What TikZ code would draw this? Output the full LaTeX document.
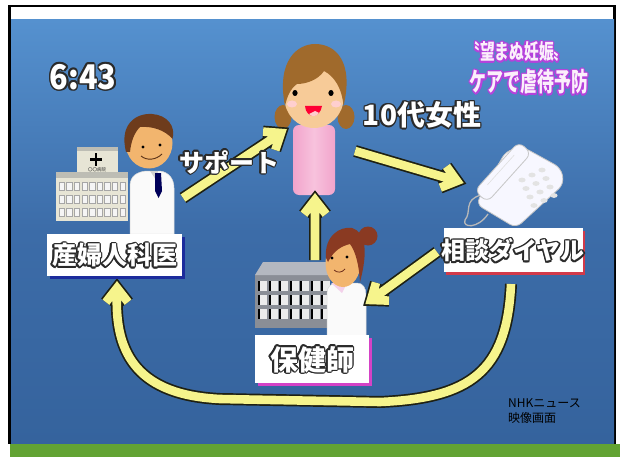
\documentclass[tikz,border=0pt]{standalone}
\usepackage{fontspec}
\newfontfamily\jp{Noto Sans CJK JP}
\usetikzlibrary{calc}
\definecolor{skytop}{HTML}{5591CF}
\definecolor{skymid}{HTML}{3C6CA8}
\definecolor{skybot}{HTML}{35639D}
\definecolor{grass}{HTML}{62A333}
\definecolor{yfill}{HTML}{F6F48C}
\definecolor{yedge}{HTML}{1E2012}
\definecolor{ink}{HTML}{2A2A2A}
\definecolor{violet}{HTML}{B542DC}
\definecolor{pale}{HTML}{FBEFFB}
\definecolor{skin}{HTML}{F2B56E}
\definecolor{skinlight}{HTML}{F7CB98}
\definecolor{hairbrown}{HTML}{6E3C1C}
\definecolor{girlhair}{HTML}{A06A2C}
\definecolor{nursehair}{HTML}{8A3A22}
\definecolor{dress}{HTML}{F2A4CB}
\definecolor{dresslight}{HTML}{F7C2DD}
\definecolor{wall}{HTML}{E7E5D5}
\definecolor{roof}{HTML}{BDBDB4}
\definecolor{steel}{HTML}{8A8E96}
\definecolor{steeltop}{HTML}{B4B8C0}
\definecolor{navyshadow}{HTML}{1C2C9C}
\definecolor{redshadow}{HTML}{D23A4A}
\definecolor{pinkshadow}{HTML}{D442C6}

% white letters with a coloured rim: copies of the text around the centre, then the text itself
\newcommand{\outlined}[6]{% name, position, style, rim colour, rim width, text
  \foreach \ang in {0,30,...,330}
    \node[#3, text=#4] at ($(#2)+(\ang:#5)$) {#6};
  \node[#3] (#1) at (#2) {#6};
}
% straight yellow arrow with a dark rim and a chevron head
\newcommand{\yarrow}[2]{% from, to
  \draw[yrim] ($(#2)!5pt!(#1)$) -- (#1) ($(#2)!18pt!38:(#1)$) -- (#2) -- ($(#2)!18pt!-38:(#1)$);
  \draw[ybody] ($(#2)!5pt!(#1)$) -- (#1) ($(#2)!18pt!38:(#1)$) -- (#2) -- ($(#2)!18pt!-38:(#1)$);
}

\begin{document}
\begin{tikzpicture}[x=1pt,y=-1pt,
  yrim/.style={draw=yedge, line width=12pt, line join=miter},
  ybody/.style={draw=yfill, line width=8.6pt, line join=miter},
  bigtext/.style={font=\jp\bfseries\fontsize{#1}{#1}\selectfont, text=white, inner sep=0pt},
  clocktext/.style={font=\jp\bfseries\fontsize{#1}{#1}\selectfont, text=white, inner sep=0pt, xscale=0.9},
  titletext/.style 2 args={font=\jp\bfseries\fontsize{#1}{#1}\selectfont, text=pale, inner sep=0pt, xscale=#2},
  labelbox/.style={fill=white, inner sep=0pt, minimum width=#1},
  window/.style={fill=white!92!gray, draw=gray!70, line width=0.5pt},
  whitecoat/.style={fill=white!96!gray, draw=gray!30, line width=0.5pt},
  phonebody/.style={fill=white!97!blue, draw=gray!45, line width=0.8pt},
]
\useasboundingbox (0,0) rectangle (620,457);

% ---------- screen frame ----------
\fill[white] (0,0) rectangle (620,457);
\fill[black] (8,5) rectangle (616,444);
\fill[white] (11,7.5) rectangle (613,20);
\shade[top color=skytop, bottom color=skybot, middle color=skymid] (11,20) rectangle (614,444);
\fill[grass] (10,444) rectangle (620,457);

% ---------- hospital ----------
\fill[wall] (77,147) rectangle (118,174);
\fill[roof] (77,147) rectangle (118,151);
\fill[black] (94.8,153) rectangle (97.2,166);
\fill[black] (90,158.3) rectangle (102,160.7);
\node[font=\jp\fontsize{4.5}{4.5}\selectfont, text=ink, inner sep=0pt] (hospname) at (97,170) {〇〇病院};
\fill[wall] (56,174) rectangle (128,221);
\fill[roof] (56,172) rectangle (128,178);
\foreach \r in {0,1,2}
  \foreach \c in {0,...,8}
    \filldraw[window] ({59+7.6*\c},{182+13*\r}) rectangle ++(5.4,8);

% ---------- doctor ----------
\filldraw[whitecoat] (130,234) -- (130,186) .. controls (130,176) and (137,172) .. (146,171)
  -- (160,171) .. controls (168,172) and (174,178) .. (174,188) -- (174,234) -- cycle;
\fill[gray!35] (150,171) -- (156,180) -- (158,171) -- cycle;
\fill[blue!35!black] (155,173) -- (161,173) -- (162,191) -- (158.5,198) -- (155,191) -- cycle;
\fill[skin] (149,143) ellipse [x radius=23.5, y radius=25.5];
\fill[hairbrown] (126,152) .. controls (119,124) and (136,113) .. (152,114)
  .. controls (167,115) and (176,126) .. (172.5,139)
  .. controls (165,130) and (152,126) .. (140,127)
  .. controls (134,133) and (131,142) .. (130,152) -- cycle;
\fill[black] (143,147) circle (1.6) (160,145) circle (1.6);
\draw[hairbrown!80!black, line width=0.9pt] (141,156) .. controls (147,161) and (156,160) .. (162,154);

% ---------- girl ----------
\fill[girlhair] (283,117) ellipse [x radius=8.5, y radius=12];
\fill[girlhair] (346,117) ellipse [x radius=8.5, y radius=12];
\shade[left color=dress, right color=dress, middle color=dresslight, rounded corners=6pt]
  (293,125) rectangle (335,195);
\fill[skinlight] (314,98) ellipse [x radius=29.5, y radius=30];
\fill[girlhair] (285,106) .. controls (276,60) and (298,44) .. (315,44)
  .. controls (336,44) and (354,62) .. (343.5,106)
  .. controls (342,88) and (334,76) .. (324,71)
  .. controls (318,80) and (306,84) .. (297,84)
  .. controls (290,89) and (287,97) .. cycle;
\fill[black] (295,93) ellipse [x radius=2.6, y radius=3] (331,93) ellipse [x radius=2.6, y radius=3];
\fill[pink!70!red!40] (292,104) ellipse [x radius=5, y radius=3.5] (336,104) ellipse [x radius=5, y radius=3.5];
\fill[red!80!magenta] (305,106) .. controls (306,119) and (320,119) .. (322,106) -- cycle;
\fill[pink!80!white] (309,114) .. controls (312,117) and (316,117) .. (319,113) -- (315,111) -- cycle;

% ---------- telephone ----------
\draw[gray!55, line width=1.3pt] (481,195) .. controls (463,200) and (472,212) .. (465,220)
  .. controls (462,228) and (478,229) .. (488,214);
\filldraw[phonebody, rounded corners=7pt] (476,204) -- (516,228) -- (564,184) -- (561,168)
  -- (523,147) -- (506,151) -- cycle;
\foreach \i in {0,1,2}
  \foreach \j in {0,1,2,3}
    \fill[gray!22] ({522+10*\i+4*\j},{180+8.5*\j-5*\i}) ellipse [x radius=3.6, y radius=2.4];
\begin{scope}[shift={(503,172)}, rotate=48]
  \filldraw[phonebody, rounded corners=7pt] (-33,-8.5) rectangle (33,8.5);
  \draw[gray!25, line width=0.6pt] (-20,-3) -- (20,-3);
\end{scope}

% ---------- public-health nurse ----------
\fill[steel] (255,275) rectangle (330,328);
\fill[steeltop] (255,275) -- (263,262) -- (330,262) -- (330,275) -- cycle;
\foreach \r in {0,1,2}
  \foreach \c in {0,...,6} {
    \fill[white!85!gray] ({258+10.5*\c},{281+14*\r}) rectangle ++(9,10);
    \fill[black] ({258+10.5*\c},{281+14*\r}) rectangle ++(2.2,10);
  }
\filldraw[whitecoat] (327,340) -- (327,293) .. controls (327,287) and (331,283) .. (337,283)
  -- (357,283) .. controls (363,283) and (366,288) .. (366,295) -- (366,340) -- cycle;
\fill[pink!60!violet!40] (331,283) -- (347,283) -- (342,293) -- cycle;
\fill[skin] (343,263) ellipse [x radius=17.5, y radius=24];
\fill[nursehair] (368,236) circle (9.5);
\fill[nursehair] (326,258) .. controls (324,236) and (340,226) .. (352,228)
  .. controls (366,232) and (368,252) .. (360,282)
  .. controls (359,266) and (356,252) .. (350,244)
  .. controls (342,246) and (334,250) .. (328,262) -- cycle;
\fill[black] (332,258) circle (1.6) (347,257) circle (1.6);
\draw[nursehair!80!black, line width=0.8pt] (334,270) .. controls (337,273) and (342,273) .. (345,269);

% ---------- arrows ----------
\coordinate (supportFrom) at (183,198);
\coordinate (supportTo) at (281,133);
\coordinate (callFrom) at (355,151);
\coordinate (callTo) at (457,181);
\coordinate (visitFrom) at (315,260);
\coordinate (visitTo) at (315,200);
\coordinate (referFrom) at (437,252);
\coordinate (referTo) at (371,300);
\coordinate (loopFrom) at (511,284);
\coordinate (loopTo) at (117,288);
\coordinate (loopDir) at (117,312);
\yarrow{supportFrom}{supportTo}
\yarrow{callFrom}{callTo}
\yarrow{visitFrom}{visitTo}
\yarrow{referFrom}{referTo}
\foreach \sty in {yrim,ybody}
  \draw[\sty] (loopFrom) .. controls (507,372) and (470,398) .. (380,402) -- (220,399)
    .. controls (140,395) and (114,356) .. ($(loopTo)!5pt!(loopDir)$)
    ($(loopTo)!18pt!38:(loopDir)$) -- (loopTo) -- ($(loopTo)!18pt!-38:(loopDir)$);

% ---------- label boxes ----------
\fill[navyshadow] (50,237) rectangle (185,279);
\node[labelbox=135pt, minimum height=42pt] (obgynbox) at (114.5,255) {};
\outlined{obgyn}{114.5,255.5}{bigtext=25}{ink}{1.5}{産婦人科医}

\fill[redshadow] (446,231) rectangle (585,275);
\node[labelbox=139pt, minimum height=44pt] (dialbox) at (513,250) {};
\outlined{dial}{513,250.5}{bigtext=24}{ink}{1.5}{相談ダイヤル}

\fill[pinkshadow] (258,338) rectangle (372,386);
\node[labelbox=114pt, minimum height=48pt] (nursebox) at (312,359) {};
\outlined{nurse}{312,359.5}{bigtext=28}{ink}{1.5}{保健師}

% ---------- captions ----------
\outlined{clock}{83,77}{clocktext=34}{ink}{1.6}{6:43}
\outlined{teen}{422,115}{bigtext=28}{ink}{1.5}{10代女性}
\outlined{support}{229,162}{bigtext=25}{ink}{1.5}{サポート}
\outlined{titleA}{517,52}{titletext={21}{0.7}}{violet}{1.4}{〝望まぬ妊娠〟}
\outlined{titleB}{529,82}{titletext={26}{0.65}}{violet}{1.4}{ケアで虐待予防}

\node[font=\jp\fontsize{12}{15}\selectfont, align=left, text=black, inner sep=0pt, anchor=north west]
  (credit) at (508,398) {NHKニュース\\映像画面};
\end{tikzpicture}
\end{document}
